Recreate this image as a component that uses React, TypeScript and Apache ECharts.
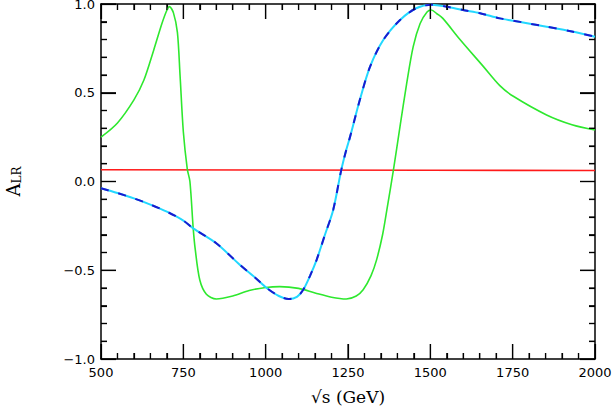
import React, { useEffect, useRef } from "react";
import * as echarts from "echarts";

const xTicks = [500, 750, 1000, 1250, 1500, 1750, 2000];
const yTicks = [-1, -0.5, 0, 0.5, 1];
const xMinorTicks = [550, 600, 650, 700, 800, 850, 900, 950, 1050, 1100, 1150, 1200, 1300, 1350, 1400, 1450, 1550, 1600, 1650, 1700, 1800, 1850, 1900, 1950];
const yMinorTicks = [-0.9, -0.8, -0.7, -0.6, -0.4, -0.3, -0.2, -0.1, 0.1, 0.2, 0.3, 0.4, 0.6, 0.7, 0.8, 0.9];

const greenX = [500, 550, 600, 630, 660, 685, 700, 708, 720, 732, 740, 750, 762, 770, 780, 786, 800, 820, 850, 900, 950, 1000, 1043, 1100, 1150, 1200, 1245, 1275, 1296, 1320, 1337, 1355, 1368, 1388, 1408, 1428, 1448, 1469, 1490, 1503, 1520, 1538, 1590, 1660, 1711, 1752, 1853, 1930, 2000];
const greenY = [0.25, 0.33, 0.46, 0.57, 0.74, 0.89, 0.965, 0.985, 0.95, 0.84, 0.6, 0.28, 0.07, 0.0, -0.264, -0.38, -0.555, -0.635, -0.662, -0.645, -0.614, -0.597, -0.592, -0.602, -0.628, -0.652, -0.662, -0.645, -0.61, -0.53, -0.44, -0.3, -0.16, 0.065, 0.31, 0.55, 0.76, 0.89, 0.955, 0.966, 0.945, 0.919, 0.8, 0.65, 0.54, 0.48, 0.375, 0.32, 0.29];

const blueX = [500, 550, 600, 650, 700, 750, 780, 850, 922, 970, 1003, 1040, 1070, 1095, 1114, 1135, 1155, 1180, 1205, 1229, 1245, 1256, 1286, 1317, 1357, 1408, 1457, 1503, 1550, 1599, 1651, 1711, 1752, 1853, 1930, 2000];
const blueY = [-0.038, -0.065, -0.095, -0.13, -0.17, -0.22, -0.264, -0.348, -0.47, -0.545, -0.6, -0.645, -0.662, -0.65, -0.61, -0.53, -0.44, -0.3, -0.16, 0.06, 0.18, 0.25, 0.46, 0.647, 0.797, 0.91, 0.976, 0.996, 0.985, 0.966, 0.948, 0.919, 0.906, 0.872, 0.845, 0.816];

const redX = [500, 1000, 1500, 2000];
const redY = [0.066, 0.065, 0.063, 0.062];

const pairs = (xs: number[], ys: number[]) => xs.map((x, i) => [x, ys[i]]);

const FONT = "DejaVu Sans";
const X_MIN = 500, X_MAX = 2000, Y_MIN = -1, Y_MAX = 1;
const MAJOR_LEN = 15, MINOR_LEN = 6;

export default function App() {
  const ref = useRef<HTMLDivElement>(null);
  useEffect(() => {
    if (!ref.current) return;
    const chart = echarts.init(ref.current, null, { renderer: "svg" });
    const line = { show: true, onZero: false, lineStyle: { color: "#000", width: 1.5 } };
    const tick = { show: true, inside: true, length: MAJOR_LEN, lineStyle: { color: "#000", width: 1.2 } };
    const minor = { show: true, splitNumber: 5, length: MINOR_LEN, lineStyle: { color: "#000", width: 1.2 } };
    const xBase = { type: "value", min: X_MIN, max: X_MAX, interval: 250, splitLine: { show: false } };
    const yBase = { type: "value", min: Y_MIN, max: Y_MAX, interval: 0.5, splitLine: { show: false } };

    const xTickData = [...xTicks.map((v) => [v, 0, 1]), ...xMinorTicks.map((v) => [v, 0, 0])];
    const yTickData = [...yTicks.map((v) => [X_MIN, v, 1]), ...yMinorTicks.map((v) => [X_MIN, v, 0])];

    chart.setOption({
      animation: false,
      grid: { left: 101, right: 18, top: 4, bottom: 50, outerBounds: { left: -80, top: -80, right: -80, bottom: -80 } },
      xAxis: [
        {
          ...xBase, position: "bottom",
          axisLine: line, axisTick: tick, minorTick: minor,
          axisLabel: { color: "#000", fontFamily: FONT, fontSize: 13, margin: 7, formatter: (v: number) => String(v) },
          name: "√s (GeV)", nameLocation: "middle", nameGap: 29,
          nameTextStyle: { fontFamily: "DejaVu Serif", fontSize: 17, color: "#000" },
        },
        { ...xBase, position: "top", axisLine: line, axisTick: tick, minorTick: minor, axisLabel: { show: false } },
      ],
      yAxis: [
        {
          ...yBase, position: "left",
          axisLine: line, axisTick: tick, minorTick: minor,
          axisLabel: {
            color: "#000", fontFamily: FONT, fontSize: 13, margin: 6, padding: [3, 0, 0, 0],
            formatter: (v: number) => (v < 0 ? "\u2212" + Math.abs(v).toFixed(1) : v.toFixed(1)),
          },
          name: "{a|A}{b|LR}", nameLocation: "middle", nameGap: 78, nameRotate: 90,
          nameTextStyle: {
            rich: {
              a: { fontFamily: "DejaVu Serif", fontSize: 18, color: "#000" },
              b: { fontFamily: "DejaVu Serif", fontSize: 12, color: "#000", padding: [8, 0, 0, 0] },
            },
          },
        },
        { ...yBase, position: "right", axisLine: line, axisTick: tick, minorTick: minor, axisLabel: { show: false } },
      ],
      series: [
        {
          type: "line", data: pairs(redX, redY), showSymbol: false,
          lineStyle: { color: "#ff1a1a", width: 1.6 },
        },
        {
          type: "line", data: pairs(greenX, greenY), showSymbol: false, smooth: 0.3,
          lineStyle: { color: "#2ee82e", width: 1.6 },
        },
        {
          type: "line", data: pairs(blueX, blueY), showSymbol: false, smooth: 0.3,
          lineStyle: { color: "#22d8ff", width: 2 },
        },
        {
          type: "line", data: pairs(blueX, blueY), showSymbol: false, smooth: 0.3,
          lineStyle: { color: "#1a1ad0", width: 2, type: [8, 10] },
        },
        {
          type: "custom", silent: true, z: 10, clip: false, data: xTickData,
          renderItem: (params: any, api: any) => {
            const v = api.value(0);
            const len = api.value(2) ? MAJOR_LEN : MINOR_LEN;
            const b = api.coord([v, Y_MIN]);
            const t = api.coord([v, Y_MAX]);
            return {
              type: "group",
              children: [
                { type: "rect", shape: { x: b[0] - 0.6, y: b[1] - len, width: 1.2, height: len }, style: { fill: "#000" } },
                { type: "rect", shape: { x: t[0] - 0.6, y: t[1], width: 1.2, height: len }, style: { fill: "#000" } },
              ],
            };
          },
        },
        {
          type: "custom", silent: true, z: 10, clip: false, data: yTickData,
          renderItem: (params: any, api: any) => {
            const v = api.value(1);
            const len = api.value(2) ? MAJOR_LEN : MINOR_LEN;
            const l = api.coord([X_MIN, v]);
            const r = api.coord([X_MAX, v]);
            return {
              type: "group",
              children: [
                { type: "rect", shape: { x: l[0], y: l[1] - 0.6, width: len, height: 1.2 }, style: { fill: "#000" } },
                { type: "rect", shape: { x: r[0] - len, y: r[1] - 0.6, width: len, height: 1.2 }, style: { fill: "#000" } },
              ],
            };
          },
        },
      ],
    });
    return () => chart.dispose();
  }, []);
  return <div ref={ref} style={{ width: 613, height: 409, position: "absolute", left: 0, top: 0, background: "#fff" }} />;
}
